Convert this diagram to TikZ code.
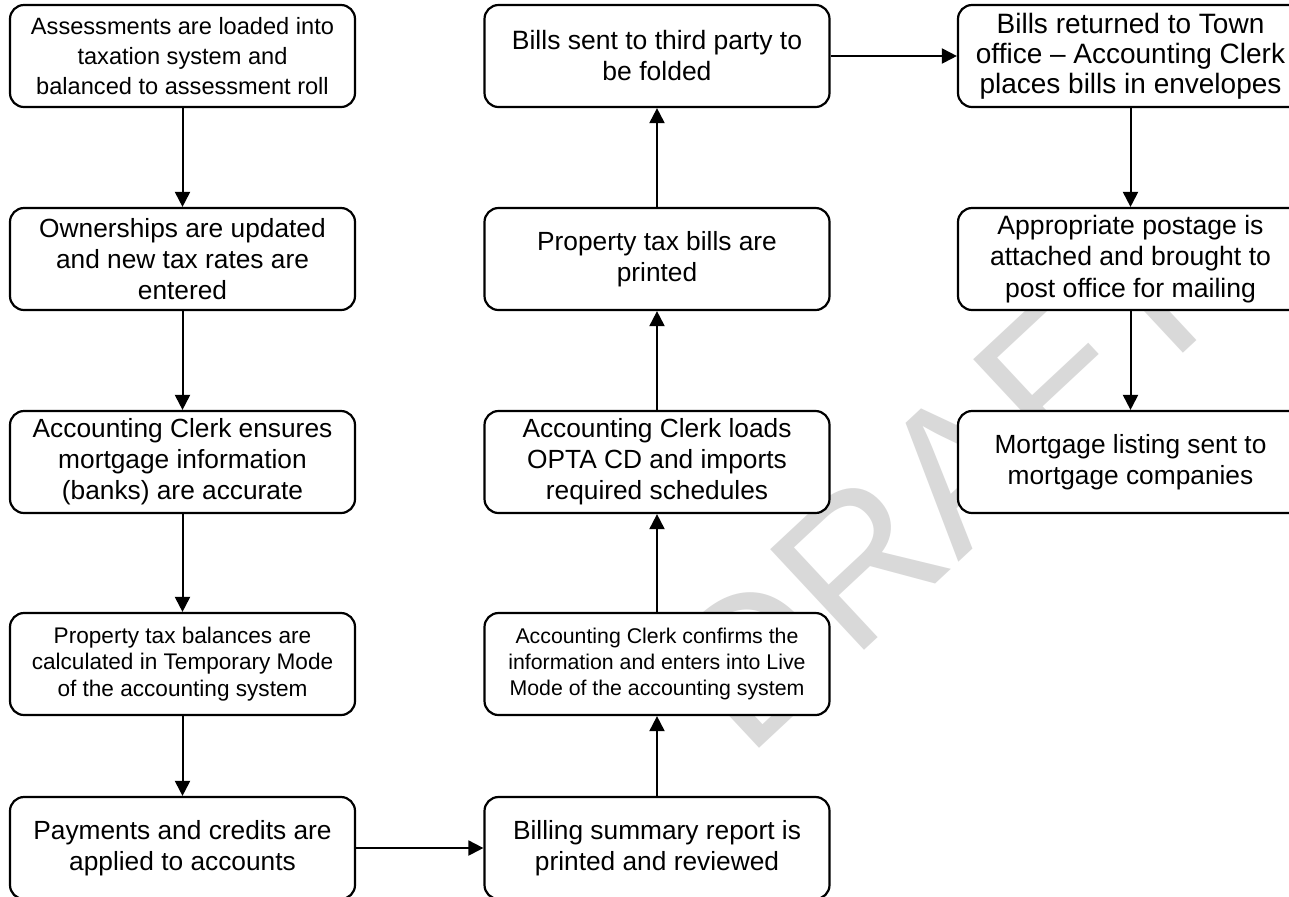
\documentclass[tikz,border=0pt]{standalone}
\usepackage{fontspec}
\setmainfont{Liberation Sans}
\usetikzlibrary{arrows.meta}
\definecolor{watermark}{RGB}{217,217,217}
\begin{document}
\begin{tikzpicture}[x=0.5pt,y=-0.5pt,
  stepbox/.style={draw=black, line width=1.1pt, rounded corners=7pt, fill=white,
    minimum width=172.5pt, minimum height=51pt, align=center, inner sep=0pt,
    font=\fontsize{13.15}{15.5}\selectfont},
  wmletter/.style={rotate=43, text=watermark, inner sep=0pt,
    font=\fontsize{100}{100}\selectfont},
  flow/.style={line width=1pt, -{Triangle[width=7.5pt,length=7.5pt]}}]
\useasboundingbox (0,0) rectangle (1289,896);
\fill[white] (0,0) rectangle (1289,896);
\clip (0,0) rectangle (1289,896);

% watermark letters along a 43 degree baseline, underneath the boxes
\node[wmletter] (wmD) at (753.0,660.1) {D};
\node[wmletter] (wmR) at (858.6,561.6) {R};
\node[wmletter] (wmA) at (960.2,466.8) {A};
\node[wmletter] (wmF) at (1053.7,379.7) {F};
\node[wmletter] (wmT) at (1143.1,296.3) {T};

% left column
\node[stepbox, font=\fontsize{11.8}{14.85}\selectfont] (a1) at (182.5,56)
  {Assessments are loaded into\\taxation system and\\balanced to assessment roll};
\node[stepbox] (a2) at (182.5,259)
  {Ownerships are updated\\and new tax rates are\\entered};
\node[stepbox] (a3) at (182.5,462)
  {Accounting Clerk ensures\\mortgage information\\(banks) are accurate};
\node[stepbox, font=\fontsize{11.3}{13.4}\selectfont] (a4) at (182.5,664)
  {Property tax balances are\\calculated in Temporary Mode\\of the accounting system};
\node[stepbox, font=\fontsize{13.15}{15.2}\selectfont] (a5) at (182.5,848)
  {Payments and credits are\\applied to accounts};

% middle column
\node[stepbox, font=\fontsize{13.25}{15.5}\selectfont] (b1) at (657,56)
  {Bills sent to third party to\\be folded};
\node[stepbox] (b2) at (657,259)
  {Property tax bills are\\printed};
\node[stepbox] (b3) at (657,462)
  {Accounting Clerk loads\\OPTA CD and imports\\required schedules};
\node[stepbox, font=\fontsize{10.65}{12.9}\selectfont] (b4) at (657,664)
  {Accounting Clerk confirms the\\information and enters into Live\\Mode of the accounting system};
\node[stepbox, font=\fontsize{13.15}{15.2}\selectfont] (b5) at (657,848)
  {Billing summary report is\\printed and reviewed};

% right column
\node[stepbox, font=\fontsize{14}{15.1}\selectfont] (c1) at (1130.5,56)
  {Bills returned to Town\\office -- Accounting Clerk\\places bills in envelopes};
\node[stepbox, font=\fontsize{13.3}{15.6}\selectfont] (c2) at (1130.5,259)
  {Appropriate postage is\\attached and brought to\\post office for mailing};
\node[stepbox] (c3) at (1130.5,462)
  {Mortgage listing sent to\\mortgage companies};

% flow
\draw[flow] (a1) -- (a2);
\draw[flow] (a2) -- (a3);
\draw[flow] (a3) -- (a4);
\draw[flow] (a4) -- (a5);
\draw[flow] (a5) -- (b5);
\draw[flow] (b5) -- (b4);
\draw[flow] (b4) -- (b3);
\draw[flow] (b3) -- (b2);
\draw[flow] (b2) -- (b1);
\draw[flow] (b1) -- (c1);
\draw[flow] (c1) -- (c2);
\draw[flow] (c2) -- (c3);
\end{tikzpicture}
\end{document}
